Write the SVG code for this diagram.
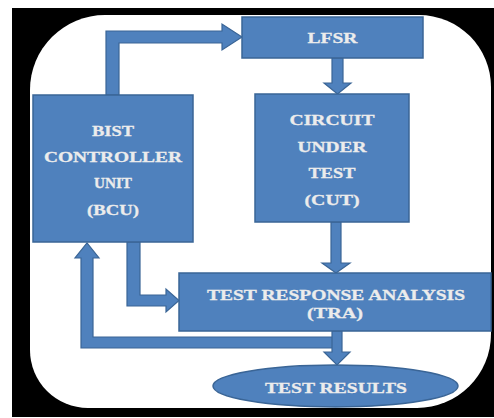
<svg xmlns="http://www.w3.org/2000/svg" width="494" height="418" viewBox="0 0 494 418">
  <style>
    .box { fill: #4f81bd; stroke: #3a6596; stroke-width: 1.5; }
    .arrow { fill: #4f81bd; stroke: #3a6596; stroke-width: 1.2; stroke-linejoin: miter; }
    .lbl { font-family: "Liberation Serif", "Times New Roman", serif; font-weight: bold; font-size: 15.5px; fill: #ececec; stroke: #ececec; stroke-width: 0.3; text-anchor: middle; }
  </style>
  <rect x="0" y="0" width="494" height="418" fill="#ffffff"/>
  <rect x="12" y="8" width="482" height="409" fill="#000000"/>
  <path d="M105,15 H419 A72,72 0 0 1 491,87 V334 A74,74 0 0 1 417,408 H88 A58,58 0 0 1 30,350 V90 A75,75 0 0 1 105,15 Z" fill="#ffffff"/>

  <g id="connectors">
    <polygon class="arrow" points="106,95 106,31 222,31 222,24 242,37 222,50 222,43 119,43 119,95"/>
    <polygon class="arrow" points="332,58 343,58 343,83 351,83 337.5,94 324,83 332,83"/>
    <polygon class="arrow" points="331,222 341,222 341,263 350,263 336,273 322,263 331,263"/>
    <polygon class="arrow" points="127,242 127,306 166,306 166,312 179,300.5 166,289 166,295 140,295 140,242"/>
    <polygon class="arrow" points="337,337 337,348 81,348 81,258 75,258 87,243 99,258 93,258 93,337"/>
    <polygon class="arrow" points="332,331 342,331 342,352 350,352 337,365 324,352 332,352"/>
  </g>

  <g id="bcu">
    <rect class="box" x="33" y="95" width="160" height="147"/>
    <text class="lbl" x="113" y="136" textLength="42" lengthAdjust="spacingAndGlyphs">BIST</text>
    <text class="lbl" x="113" y="162" textLength="138" lengthAdjust="spacingAndGlyphs">CONTROLLER</text>
    <text class="lbl" x="113" y="188" textLength="38" lengthAdjust="spacingAndGlyphs">UNIT</text>
    <text class="lbl" x="113" y="215" textLength="52" lengthAdjust="spacingAndGlyphs">(BCU)</text>
  </g>

  <g id="lfsr">
    <rect class="box" x="242" y="17" width="181" height="41"/>
    <text class="lbl" x="332.5" y="43" textLength="50" lengthAdjust="spacingAndGlyphs">LFSR</text>
  </g>

  <g id="cut">
    <rect class="box" x="255" y="94" width="154" height="128"/>
    <text class="lbl" x="332" y="125" textLength="85" lengthAdjust="spacingAndGlyphs">CIRCUIT</text>
    <text class="lbl" x="332" y="152" textLength="69" lengthAdjust="spacingAndGlyphs">UNDER</text>
    <text class="lbl" x="332" y="178" textLength="47" lengthAdjust="spacingAndGlyphs">TEST</text>
    <text class="lbl" x="332" y="205" textLength="55" lengthAdjust="spacingAndGlyphs">(CUT)</text>
  </g>

  <g id="tra">
    <rect class="box" x="179" y="273" width="312" height="58"/>
    <text class="lbl" x="336" y="300" textLength="258" lengthAdjust="spacingAndGlyphs">TEST RESPONSE ANALYSIS</text>
    <text class="lbl" x="335" y="318" textLength="56" lengthAdjust="spacingAndGlyphs">(TRA)</text>
  </g>

  <g id="results">
    <ellipse class="box" cx="335.5" cy="386" rx="122.5" ry="21"/>
    <text class="lbl" x="336" y="393" textLength="142" lengthAdjust="spacingAndGlyphs">TEST RESULTS</text>
  </g>
</svg>
